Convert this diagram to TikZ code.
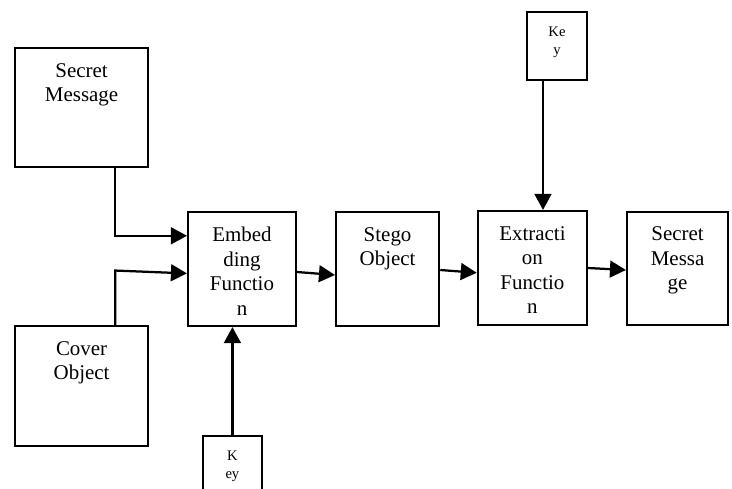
\documentclass[tikz,border=0pt]{standalone}
\usepackage{fontspec}
\setmainfont{Liberation Serif}
\usetikzlibrary{arrows.meta}

\begin{document}
\begin{tikzpicture}[
    blk/.style={draw, line width=1.5pt, inner sep=0pt},
    txt/.style={anchor=north, align=center, inner sep=0pt, yshift=-0.4cm, font=\fontsize{14.9}{17.4}\selectfont},
    keytxt/.style={txt, font=\fontsize{10.4}{12.8}\selectfont},
    flow/.style={line width=1.6pt, -{Triangle[length=0.4cm, width=0.42cm]}}
]
    \useasboundingbox (0,0) rectangle (18.3,12.2);
    \clip (0,0) rectangle (18.3,12.2);

    \node[blk, minimum width=3.33cm, minimum height=2.98cm, label={[txt]north:Secret\\Message}] (secret) at (2.04,9.51) {};
    \node[blk, minimum width=3.33cm, minimum height=3cm, label={[txt]north:Cover\\Object}] (cover) at (2.04,2.55) {};
    \node[blk, minimum width=2.7cm, minimum height=2.85cm, label={[txt]north:Embed\\ding\\Functio\\n}] (embed) at (6.05,5.475) {};
    \node[blk, minimum width=2.58cm, minimum height=2.85cm, label={[txt]north:Stego\\Object}] (stego) at (9.69,5.475) {};
    \node[blk, minimum width=2.73cm, minimum height=2.85cm, label={[txt]north:Extracti\\on\\Functio\\n}] (extract) at (13.31,5.5) {};
    \node[blk, minimum width=2.53cm, minimum height=2.83cm, label={[txt]north:Secret\\Messa\\ge}] (recovered) at (16.94,5.49) {};
    \node[blk, minimum width=1.5cm, minimum height=1.7cm, label={[keytxt]north:Ke\\y}] (keyext) at (13.925,11.05) {};
    \node[blk, minimum width=1.48cm, minimum height=1.7cm, label={[keytxt]north:K\\ey}] (keyemb) at (5.81,0.45) {};

    % inputs of the embedding
    \draw[flow] ([xshift=0.84cm]secret.south) |- ([yshift=0.83cm]embed.west);
    \draw[flow] ([xshift=0.84cm]cover.north) -- ++(0,1.36) -- ([yshift=-0.11cm]embed.west);
    \draw[flow] (keyemb.north) -- (keyemb.north |- embed.south);

    % main chain
    \draw[flow] ([yshift=-0.075cm]embed.east) -- ([yshift=-0.15cm]stego.west);
    \draw[flow] ([yshift=-0.025cm]stego.east) -- ([yshift=-0.12cm]extract.west);
    \draw[flow] (extract.east) -- ([yshift=-0.04cm]recovered.west);
    \draw[flow] ([xshift=-0.35cm]keyext.south) -- ([xshift=-0.35cm]keyext.south |- extract.north);
\end{tikzpicture}
\end{document}
